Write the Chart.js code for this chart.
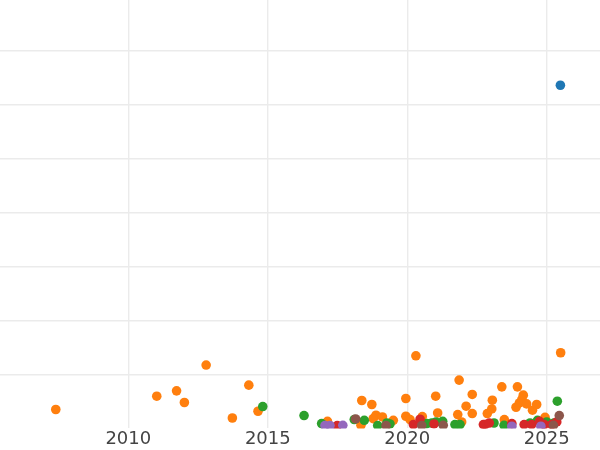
<!DOCTYPE html>
<html>
<head>
<meta charset="utf-8">
<script src="https://cdn.jsdelivr.net/npm/chart.js@4/dist/chart.umd.min.js"></script>
<style>
  html, body { margin: 0; padding: 0; background: #fff; }
  #wrap { width: 600px; height: 450px; position: relative; }
</style>
</head>
<body>
<div id="wrap"><canvas id="chart"></canvas></div>
<script>
// [year, value] per series
const blueSeries = [[2025.49, 63.6]];

const orangeSeries = [
  [2007.40, 3.5], [2011.02, 5.97], [2011.73, 6.96], [2012.01, 4.8], [2012.79, 11.74],
  [2013.73, 1.93], [2014.32, 8.02], [2014.65, 3.18], [2017.14, 1.32], [2018.34, 0.58],
  [2018.37, 5.17], [2018.73, 4.43], [2018.88, 2.44], [2018.78, 1.82], [2019.11, 2.12],
  [2019.50, 1.5], [2019.95, 5.54], [2020.31, 13.46], [2019.95, 2.25], [2020.10, 1.64],
  [2020.54, 2.19], [2021.02, 5.97], [2021.09, 2.86], [2021.86, 8.95], [2021.81, 2.57],
  [2021.95, 1.19], [2022.11, 4.11], [2022.33, 6.29], [2022.33, 2.75], [2022.87, 2.75],
  [2023.03, 3.6], [2023.05, 5.23], [2023.39, 7.7], [2023.48, 1.64], [2023.95, 7.7],
  [2023.90, 3.92], [2024.02, 4.72], [2024.16, 6.16], [2024.11, 5.36], [2024.28, 4.54],
  [2024.49, 3.37], [2024.64, 4.43], [2024.94, 2.06], [2025.50, 14.02]
];

const greenSeries = [
  [2014.82, 4.05], [2016.30, 2.38], [2016.93, 0.89], [2018.10, 1.64], [2018.46, 1.5],
  [2018.94, 0.52], [2019.27, 1.0], [2019.38, 0.82], [2020.70, 0.89], [2020.88, 1.0],
  [2021.03, 1.19], [2021.27, 1.32], [2021.71, 0.7], [2021.89, 0.7], [2023.11, 1.0],
  [2023.47, 0.58], [2024.40, 1.0], [2024.67, 1.5], [2025.00, 1.19], [2025.26, 1.0],
  [2025.38, 5.04]
];

const redSeries = [
  [2017.49, 0.52], [2020.22, 0.7], [2020.46, 1.7], [2020.96, 0.82], [2022.73, 0.7],
  [2022.79, 0.7], [2022.94, 1.0], [2023.75, 0.89], [2024.19, 0.7], [2024.46, 0.7],
  [2024.74, 1.32], [2024.91, 0.7], [2025.18, 0.7], [2025.36, 1.19]
];

const purpleSeries = [
  [2017.05, 0.52], [2017.23, 0.52], [2017.69, 0.58], [2023.75, 0.4], [2024.79, 0.4]
];

const brownSeries = [
  [2018.15, 1.75], [2019.24, 0.52], [2020.52, 0.52], [2021.29, 0.58], [2025.24, 0.58],
  [2025.45, 2.38]
];

const xTicks = [2010, 2015, 2020, 2025];
const yGrid = [10, 20, 30, 40, 50, 60, 70];

const seriesList = [
  { pts: blueSeries, color: '#1f77b4' },
  { pts: orangeSeries, color: '#ff7f0e' },
  { pts: greenSeries, color: '#2ca02c' },
  { pts: redSeries, color: '#d62728' },
  { pts: purpleSeries, color: '#9467bd' },
  { pts: brownSeries, color: '#8c564b' }
];

const datasets = seriesList.map((s, i) => ({
  data: s.pts.map(p => ({ x: p[0], y: p[1] })),
  backgroundColor: s.color,
  borderColor: s.color,
  borderWidth: 0,
  pointRadius: 4.8,
  clip: 0,
  order: seriesList.length - i
}));

const ctx = document.querySelector('#chart').getContext('2d');
new Chart(ctx, {
  type: 'scatter',
  data: { datasets: datasets },
  options: {
    responsive: true,
    maintainAspectRatio: false,
    animation: false,
    layout: { padding: 0, autoPadding: false },
    plugins: { legend: { display: false }, tooltip: { enabled: false } },
    scales: {
      x: {
        type: 'linear',
        min: 2005.4,
        max: 2026.91,
        afterBuildTicks: s => { s.ticks = xTicks.map(v => ({ value: v })); },
        grid: { color: '#ebebeb', lineWidth: 1.4, drawTicks: false },
        border: { display: false },
        ticks: {
          padding: 0,
          color: '#444',
          font: { family: 'DejaVu Sans', size: 18 },
          maxRotation: 0,
          callback: v => String(v)
        }
      },
      y: {
        min: 0,
        max: 79.4,
        afterBuildTicks: s => { s.ticks = yGrid.map(v => ({ value: v })); },
        grid: { color: '#ebebeb', lineWidth: 1.4, drawTicks: false },
        border: { display: false },
        ticks: { display: false }
      }
    }
  }
});
</script>
</body>
</html>
